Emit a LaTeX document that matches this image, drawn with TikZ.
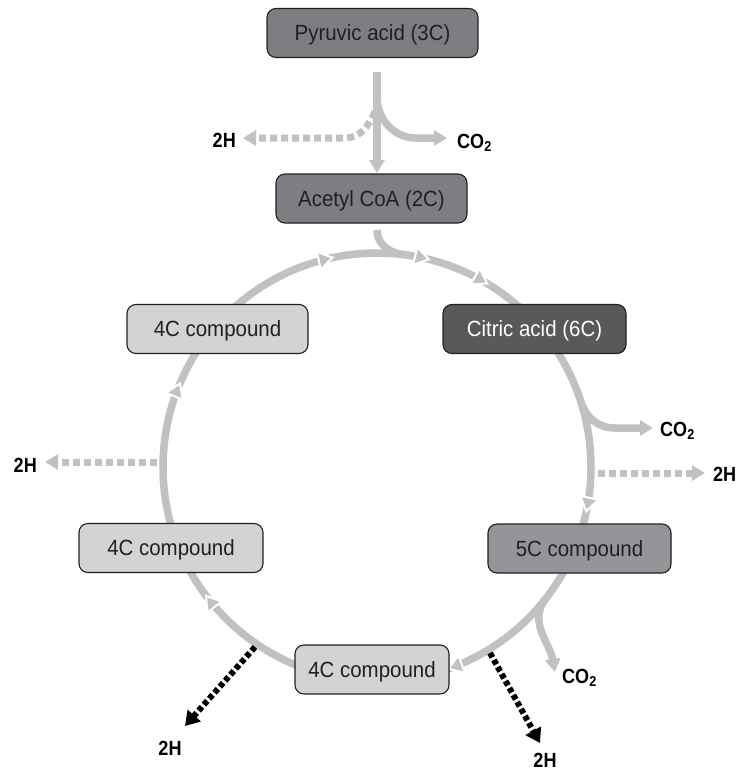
\documentclass[tikz,border=0pt]{standalone}
\usepackage{fontspec}
\setmainfont{Liberation Sans}
\newfontfamily\boxfont[FakeStretch=0.93]{Liberation Sans}
\newfontfamily\tagfont[FakeStretch=0.88]{Liberation Sans}
\usetikzlibrary{arrows.meta, calc}
\definecolor{ringgray}{RGB}{192,193,195}
\definecolor{darkbox}{RGB}{125,126,129}
\definecolor{citricbox}{RGB}{88,89,91}
\definecolor{fivebox}{RGB}{147,149,152}
\definecolor{fourbox}{RGB}{209,211,212}
\definecolor{boxline}{RGB}{35,31,32}
\begin{document}
\begin{tikzpicture}[x=1pt, y=1pt,
  box/.style={draw=boxline, line width=1.1pt, rounded corners=9pt, inner sep=0pt,
    minimum height=49pt, text height=15.5pt, text depth=0pt, text=boxline,
    font=\boxfont\fontsize{22}{26}\selectfont},
  ring/.style={draw=ringgray, line width=7.5pt},
  ringtip/.style={fill=ringgray, draw=white, line width=2pt, line join=miter},
  flow/.style={ring, -{Triangle[width=15pt, length=13pt]}},
  hgray/.style={draw=ringgray, line width=7pt, dash pattern=on 7pt off 4pt, -{Triangle[width=15pt, length=13pt]}},
  hblack/.style={draw=black, line width=6pt, dash pattern=on 5pt off 3pt, -{Triangle[width=17pt, length=14pt]}},
  tag/.style={inner sep=0pt, text height=14.5pt, text depth=0pt, font=\tagfont\bfseries\fontsize{20.5}{24}\selectfont}]
  \useasboundingbox (0,0) rectangle (739,-771);

  % the cycle ring with its arrowheads
  \coordinate (ctr) at (377,-467);
  \draw[ring] (ctr) circle[radius=214];
  \foreach \t in {102,76,59,-12,-70.5,-143,157}
    \path[ringtip, shift={($(ctr)+(\t:214)$)}, rotate=\t-90]
      (-14,9) -- (0,0) -- (-14,-9) -- cycle;

  % free ends of the side arrows
  \coordinate (v0) at (377,-72);
  \coordinate (v1) at (377,-173);
  \coordinate (f1) at (377,-97);
  \coordinate (f2) at (375,-112);
  \coordinate (s0) at (377,-230);
  \coordinate (c1tip) at (447,-138);
  \coordinate (h1tip) at (243,-138);
  \coordinate (c2tip) at (653,-428);
  \coordinate (h2tip) at (705,-473);
  \coordinate (h3tip) at (45,-462);
  \coordinate (c3tip) at (555,-672);
  \coordinate (h4tip) at (540,-743);
  \coordinate (h5tip) at (185,-726);

  % pyruvic acid to acetyl CoA
  \draw[flow] (v0) -- (v1);
  \draw[flow] (f1) to[out=-90, in=180] (416,-138) -- (c1tip);
  \draw[hgray] (f2) to[out=-115, in=0] (345,-138) -- (h1tip);
  \draw[ring] (s0) to[out=-90, in=173] ($(ctr)+(83:214)$);

  % products leaving the cycle
  \draw[flow] ($(ctr)+(18:214)$) to[out=-72, in=180] (615,-428) -- (c2tip);
  \draw[hgray] (598,-473) -- (h2tip);
  \draw[hgray] (157,-462) -- (h3tip);
  \draw[flow] ($(ctr)+(-38:214)$) to[out=-128, in=100] (c3tip);
  \draw[hblack] (490,-653) -- (h4tip);
  \draw[hblack] (255,-647) -- (h5tip);

  % compounds
  \node[box, fill=darkbox, minimum width=211pt] (pyr) at (372.5,-33) {Pyruvic acid (3C)};
  \node[box, fill=darkbox, minimum width=191pt] (acet) at (371.5,-198.5) {Acetyl CoA (2C)};
  \node[box, fill=citricbox, text=white, minimum width=183pt] (cit) at (534.5,-329) {Citric acid (6C)};
  \node[box, fill=fivebox, minimum width=183pt] (five) at (579.5,-548.5) {5C compound};
  \node[box, fill=fourbox, minimum width=154pt] (fourc) at (372,-669.5) {4C compound};
  \node[box, fill=fourbox, minimum width=184pt] (fourb) at (171,-548) {4C compound};
  \node[box, fill=fourbox, minimum width=181pt] (foura) at (217.5,-329) {4C compound};

  % side products
  \node[tag, anchor=east] (h1) at (236,-140.5) {2H};
  \node[tag, anchor=west] (c1) at (457,-141.5) {CO\textsubscript{2}};
  \node[tag, anchor=west] (c2) at (660,-429) {CO\textsubscript{2}};
  \node[tag, anchor=west] (h2) at (713,-474.5) {2H};
  \node[tag, anchor=east] (h3) at (37,-465) {2H};
  \node[tag, anchor=west] (c3) at (562,-676.5) {CO\textsubscript{2}};
  \node[tag] (h4) at (545,-760) {2H};
  \node[tag] (h5) at (170,-748.5) {2H};
\end{tikzpicture}
\end{document}
